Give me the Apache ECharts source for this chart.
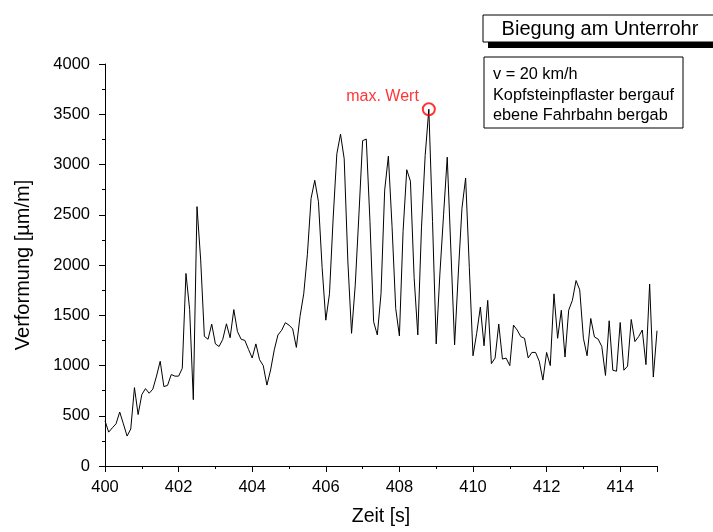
<!DOCTYPE html>
<html>
<head>
<meta charset="utf-8">
<script src="https://cdn.jsdelivr.net/npm/echarts@6/dist/echarts.min.js"></script>
<style>
html,body{margin:0;padding:0;background:#fff;overflow:hidden;}
#chart{width:713px;height:532px;}
</style>
</head>
<body>
<div id="chart"></div>
<script>
// Sampling grid of the measurement
const tStart = 400;
const tStep = 0.1;
// Verformung values [µm/m], one per sample
const strain = [
  450, 337, 380, 420, 537, 419, 298, 368, 780, 512,
  710, 770, 724, 765, 895, 1042, 790, 802, 910, 894,
  894, 972, 1916, 1558, 660, 2581, 2050, 1290, 1261, 1412,
  1215, 1189, 1260, 1415, 1276, 1556, 1337, 1261, 1250, 1160,
  1075, 1215, 1058, 999, 805, 955, 1156, 1304, 1350, 1426,
  1402, 1364, 1180, 1490, 1713, 2106, 2663, 2843, 2631, 1975,
  1451, 1713, 2467, 3106, 3302, 3057, 2030, 1320, 1800, 2499,
  3237, 3253, 2434, 1435, 1304, 1713, 2745, 3083, 2385, 1566,
  1294, 2336, 2948, 2834, 1877, 1304, 2369, 3089, 3550, 2434,
  1215, 1910, 2499, 3073, 2139, 1206, 1910, 2565, 2866, 1975,
  1097, 1320, 1582, 1196, 1648, 1019, 1074, 1412, 1064, 1074,
  999, 1402, 1353, 1287, 1271, 1075, 1130, 1130, 1042, 855,
  1130, 999, 1713, 1271, 1550, 1084, 1550, 1648, 1845, 1753,
  1271, 1097, 1468, 1284, 1263, 1189, 901, 1445, 953, 943,
  1428, 953, 993, 1458, 1238, 1287, 1353, 1009, 1811, 885,
  1346
];
const xTicks = [400, 402, 404, 406, 408, 410, 412, 414];
const yTicks = [0, 500, 1000, 1500, 2000, 2500, 3000, 3500, 4000];
const titleText = 'Biegung am Unterrohr';
const infoLines = ['v = 20 km/h', 'Kopfsteinpflaster bergauf', 'ebene Fahrbahn bergab'];
const maxLabel = 'max. Wert';

const seriesData = strain.map((v, i) => [+(tStart + i * tStep).toFixed(1), v]);
let maxIdx = 0;
strain.forEach((v, i) => { if (v > strain[maxIdx]) maxIdx = i; });
const maxPoint = seriesData[maxIdx];

const FONT = 'Liberation Sans, Arial, sans-serif';
const chart = echarts.init(document.getElementById('chart'), null, {renderer: 'canvas'});
const axisCommon = {
  axisLine: {show: true, onZero: false, lineStyle: {color: '#000', width: 1}},
  axisTick: {show: true, inside: false, length: 6, lineStyle: {color: '#000', width: 1}},
  minorTick: {show: true, splitNumber: 2, length: 3, lineStyle: {color: '#000', width: 1}},
  splitLine: {show: false},
  minorSplitLine: {show: false}
};
chart.setOption({
  animation: false,
  backgroundColor: '#fff',
  grid: {left: 105, right: 56, top: 64, bottom: 61, containLabel: false},
  xAxis: Object.assign({
    type: 'value',
    min: xTicks[0], max: 415, interval: 2,
    name: 'Zeit [s]', nameLocation: 'middle', nameGap: 41,
    nameTextStyle: {fontFamily: FONT, fontSize: 19.5, color: '#000'},
    axisLabel: {fontFamily: FONT, fontSize: 16.5, color: '#000', margin: 13,
      formatter: v => xTicks.includes(v) ? String(v) : ''}
  }, axisCommon),
  yAxis: Object.assign({
    type: 'value',
    min: yTicks[0], max: yTicks[yTicks.length - 1], interval: 500,
    name: 'Verformung [µm/m]', nameLocation: 'middle', nameGap: 72, nameRotate: 90,
    nameTextStyle: {fontFamily: FONT, fontSize: 20, color: '#000'},
    axisLabel: {fontFamily: FONT, fontSize: 16.5, color: '#000', margin: 15,
      formatter: v => String(v)}
  }, axisCommon),
  series: [
    {
      type: 'line', data: seriesData, symbol: 'none',
      lineStyle: {color: '#000', width: 1}, z: 2
    },
    {
      type: 'scatter', data: [maxPoint], symbol: 'circle', symbolSize: 12,
      itemStyle: {color: 'rgba(0,0,0,0)', borderColor: '#ff0000', borderWidth: 2},
      label: {show: true, position: 'left', distance: 3, offset: [0, -13],
        formatter: maxLabel, color: '#ff0000', fontFamily: FONT, fontSize: 16},
      z: 3
    }
  ],
  graphic: [
    {type: 'rect', shape: {x: 488, y: 21, width: 240, height: 27}, style: {fill: '#000'}, z: 10},
    {type: 'rect', shape: {x: 483, y: 15, width: 240, height: 27}, style: {fill: '#fff', stroke: '#000', lineWidth: 1}, z: 11},
    {type: 'text', x: 600, y: 29, style: {text: titleText, fontFamily: FONT, fontSize: 20, fill: '#000', align: 'center', verticalAlign: 'middle'}, z: 12},
    {type: 'rect', shape: {x: 484, y: 57, width: 199, height: 71}, style: {fill: '#fff', stroke: '#000', lineWidth: 1}, z: 10},
    {type: 'text', x: 493, y: 64.5, style: {text: infoLines.join('\n'), lineHeight: 20.5, fontFamily: FONT, fontSize: 16.3, fill: '#000', align: 'left', verticalAlign: 'top'}, z: 12}
  ]
});
</script>
</body>
</html>
